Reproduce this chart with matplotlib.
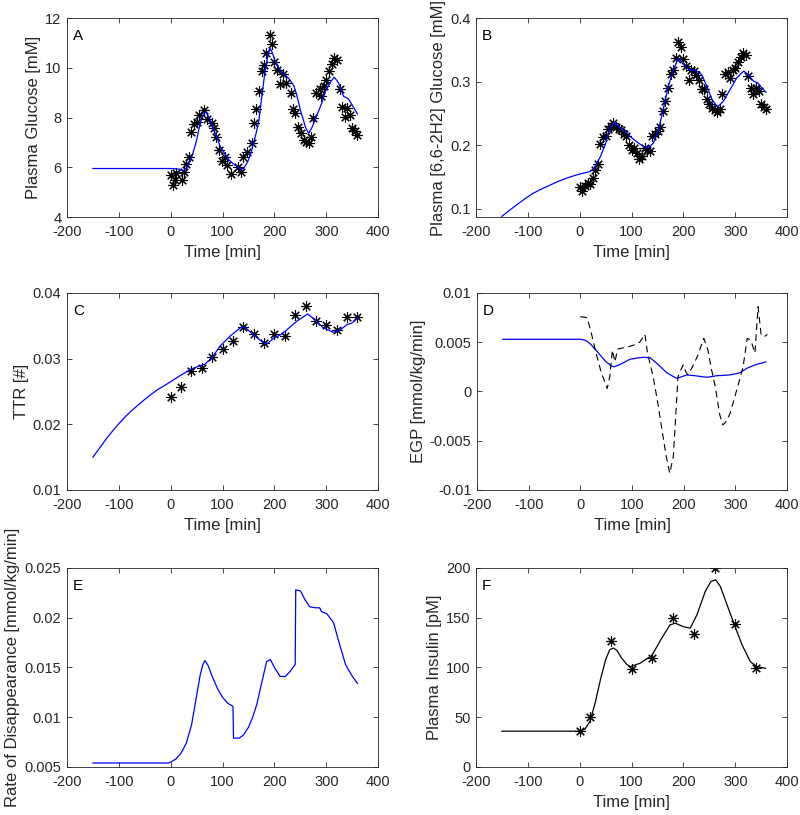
import matplotlib
matplotlib.use('Agg')
import matplotlib.pyplot as plt

plt.rcParams['font.family'] = ['Liberation Sans', 'DejaVu Sans']
plt.rcParams['axes.unicode_minus'] = False

GREY = '#262626'
STAR = (8, 2, 0)

# ---- A: plasma glucose ----
a_obs_t = [0, 4, 8, 10, 21, 25, 29, 35, 39, 45, 50, 55, 64, 70, 79, 83, 88, 94, 99, 104, 108,
           116, 129, 135, 140, 147, 156, 161, 165, 170, 175, 179, 184, 191, 195, 200, 205, 210,
           216, 222, 231, 235, 240, 245, 252, 256, 261, 266, 270, 275, 281, 287, 290, 295, 300,
           305, 310, 315, 321, 326, 330, 336, 340, 345, 350, 355, 360]
a_obs_y = [5.68, 5.30, 5.48, 5.75, 5.50, 5.80, 6.12, 6.42, 7.40, 7.74, 7.80, 8.12, 8.30, 7.96, 7.77,
           7.56, 7.23, 6.70, 6.26, 6.40, 6.08, 5.72, 6.00, 5.80, 6.42, 6.62, 6.96, 7.76, 8.34, 9.08,
           9.85, 10.10, 10.60, 11.30, 10.95, 10.25, 9.90, 9.34, 9.75, 9.40, 8.97, 8.33, 8.17, 7.60,
           7.36, 7.10, 7.00, 6.96, 7.20, 8.00, 8.97, 9.13, 8.88, 9.27, 9.50, 9.85, 10.14, 10.38,
           10.32, 9.13, 8.43, 8.03, 8.37, 8.10, 7.56, 7.45, 7.30]
a_fit_t = [-150, -100, -50, 0, 10, 18, 22, 26, 31, 36, 41, 46, 50, 54, 58, 62, 66, 70, 75, 83, 90,
           96, 104, 112, 120, 128, 135, 140, 145, 150, 155, 160, 165, 170, 176, 182, 187, 191, 195,
           200, 208, 217, 227, 237, 243, 250, 255, 260, 266, 273, 282, 291, 298, 306, 315, 320,
           324, 333, 343, 352, 360]
a_fit_y = [5.95, 5.95, 5.95, 5.95, 5.94, 5.92, 5.86, 5.88, 5.98, 6.20, 6.45, 6.80, 7.10, 7.50, 7.85,
           8.10, 8.23, 8.15, 7.95, 7.50, 7.15, 6.80, 6.55, 6.30, 6.15, 6.02, 5.92, 5.95, 6.10, 6.30,
           6.60, 7.00, 7.40, 7.90, 8.90, 9.90, 10.45, 10.80, 10.65, 10.35, 10.00, 9.78, 9.58, 9.30,
           8.90, 8.30, 7.95, 7.60, 7.36, 7.63, 8.10, 8.57, 9.04, 9.37, 9.62, 9.50, 9.37, 8.86, 8.74,
           8.43, 8.14]

# ---- B: labelled glucose ----
b_obs_t = list(range(0, 365, 5))
b_obs_y = [0.134, 0.127, 0.135, 0.140, 0.138, 0.148, 0.160, 0.170, 0.202, 0.213, 0.215, 0.225,
           0.230, 0.235, 0.228, 0.225, 0.223, 0.218, 0.215, 0.200, 0.192, 0.195, 0.188, 0.178,
           0.182, 0.195, 0.192, 0.190, 0.214, 0.218, 0.222, 0.228, 0.254, 0.270, 0.290, 0.312,
           0.318, 0.337, 0.362, 0.355, 0.335, 0.325, 0.303, 0.318, 0.316, 0.310, 0.303, 0.289,
           0.288, 0.272, 0.265, 0.258, 0.255, 0.252, 0.257, 0.280, 0.312, 0.315, 0.305, 0.318,
           0.322, 0.330, 0.338, 0.345, 0.342, 0.308, 0.290, 0.280, 0.290, 0.285, 0.265, 0.260,
           0.256]
b_fit_t = [-150, -135, -120, -105, -89, -73, -57, -41, -25, -12, 0, 19, 27, 40, 50, 56, 66, 79,
           92, 97, 110, 123, 132, 142, 152, 161, 171, 181, 190, 200, 213, 222, 235, 245, 255, 266,
           277, 290, 303, 316, 325, 335, 343, 351, 359]
b_fit_y = [0.0878, 0.0975, 0.1068, 0.1158, 0.1245, 0.131, 0.137, 0.143, 0.148, 0.1515, 0.1544,
           0.158, 0.163, 0.182, 0.203, 0.221, 0.236, 0.227, 0.219, 0.2135, 0.205, 0.1976, 0.196,
           0.203, 0.224, 0.256, 0.293, 0.319, 0.3366, 0.327, 0.3176, 0.318, 0.311, 0.293, 0.2716,
           0.260, 0.269, 0.2875, 0.306, 0.3165, 0.311, 0.3006, 0.298, 0.290, 0.2833]

# ---- C: TTR ----
c_obs_t = list(range(0, 380, 20))
c_obs_y = [0.0241, 0.0257, 0.0281, 0.0286, 0.0302, 0.0315, 0.0327, 0.0348, 0.0337, 0.0324,
           0.0337, 0.0334, 0.0366, 0.0380, 0.0357, 0.0351, 0.0344, 0.0363, 0.0363]
c_fit_t = [-150, -137, -125, -112, -100, -87, -75, -62, -50, -37, -25, -12, 0, 20, 39, 55, 65,
           80, 95, 114, 134, 143, 160, 176, 185, 198, 211, 224, 243, 264, 278, 294, 314, 327,
           340, 349, 360]
c_fit_y = [0.0150, 0.0164, 0.0177, 0.0190, 0.0201, 0.0212, 0.0221, 0.0230, 0.0238, 0.0246,
           0.0253, 0.0259, 0.0265, 0.0275, 0.0284, 0.0289, 0.0291, 0.0302, 0.0319, 0.0334,
           0.0347, 0.0348, 0.0336, 0.0326, 0.0322, 0.0331, 0.0336, 0.0344, 0.0357, 0.0368,
           0.0359, 0.0347, 0.0340, 0.0344, 0.0352, 0.0354, 0.0362]

# ---- D: EGP ----
d_fit_t = [-150, -100, -50, 0, 10, 20, 30, 40, 50, 60, 65, 75, 90, 96, 110, 122, 135, 148, 167,
           186, 193, 206, 222, 245, 264, 290, 309, 322, 338, 359]
d_fit_y = [0.0053, 0.0053, 0.0053, 0.0053, 0.0052, 0.0048, 0.0042, 0.0036, 0.0030, 0.0026,
           0.0025, 0.0027, 0.0031, 0.00327, 0.0034, 0.00347, 0.00343, 0.00286, 0.00191, 0.00134,
           0.00144, 0.00168, 0.0016, 0.00144, 0.0016, 0.00168, 0.0019, 0.00235, 0.0027, 0.0030]
d_dash_t = [0, 13, 20, 30, 40, 52, 57, 62, 67, 72, 80, 90, 103, 115, 125, 130, 141, 150, 158,
            166, 173, 180, 189, 193, 199, 204, 208, 216, 226, 239, 247, 254, 261, 270, 276, 283,
            290, 303, 315, 323, 330, 338, 344, 350, 357, 362]
d_dash_y = [0.0076, 0.0075, 0.0062, 0.0040, 0.0020, 0.0003, 0.0015, 0.0042, 0.0030, 0.0043,
            0.0044, 0.0045, 0.0047, 0.0050, 0.0058, 0.0039, 0.0015, -0.0012, -0.0039, -0.0065,
            -0.0083, -0.0066, 0.0015, 0.0020, 0.0027, 0.0020, 0.0017, 0.0024, 0.0035, 0.0054,
            0.0042, 0.0022, 0.0005, -0.0024, -0.0034, -0.0030, -0.0022, 0.0002, 0.0025, 0.0054,
            0.0052, 0.0039, 0.0086, 0.0057, 0.0056, 0.0058]

# ---- E: rate of disappearance ----
e_fit_t = [-150, -100, -50, -5, 0, 10, 20, 30, 40, 50, 57, 62, 66, 72, 80, 90, 100, 110, 120,
           121, 132, 140, 150, 158, 166, 176, 185, 192, 201, 211, 221, 230, 240, 241, 250, 259,
           268, 279, 287, 291, 301, 314, 324, 337, 349, 360]
e_fit_y = [0.0054, 0.0054, 0.0054, 0.0054, 0.0055, 0.0058, 0.0064, 0.0074, 0.0092, 0.0122,
           0.0143, 0.0153, 0.0157, 0.0152, 0.0141, 0.0129, 0.0120, 0.0114, 0.0111, 0.0079,
           0.0079, 0.0082, 0.0090, 0.0100, 0.0113, 0.0136, 0.0156, 0.0158, 0.0149, 0.0141,
           0.0141, 0.0146, 0.0153, 0.0228, 0.0227, 0.0218, 0.0211, 0.0210, 0.0210, 0.0206,
           0.0204, 0.0195, 0.0176, 0.0153, 0.0142, 0.0134]

# ---- F: plasma insulin ----
f_obs_t = [0, 20, 60, 100, 140, 180, 220, 260, 300, 340]
f_obs_y = [36.3, 50.4, 127, 98.5, 110, 149.6, 133.4, 200, 143.9, 99.2]
f_fit_t = [-150, -100, -50, 0, 10, 20, 30, 40, 50, 58, 65, 72, 80, 90, 97, 116, 139, 158, 174,
           184, 200, 213, 226, 242, 253, 262, 271, 284, 297, 313, 329, 342, 358]
f_fit_y = [36, 36, 36, 36, 38, 46, 65, 88, 108, 118, 119.5, 117, 110, 103.5, 100.8, 104.2, 112,
           129.4, 142.8, 144.5, 141, 139.5, 153, 176.4, 186.5, 188.2, 181.5, 163, 144.5, 122.7,
           105.8, 100.8, 99.2]

x_ticks = [-200, -100, 0, 100, 200, 300, 400]
x_labels = ['-200', '-100', '0', '100', '200', '300', '400']

panels = {
    'A': dict(pos=[0.08375, 0.7337, 0.389, 0.2442], ylim=(4, 12), yticks=[4, 6, 8, 10, 12],
              ylabels=['4', '6', '8', '10', '12'], ylabel='Plasma Glucose [mM]', xlabel=True),
    'B': dict(pos=[0.595, 0.7337, 0.389, 0.2442], ylim=(0.0867, 0.4), yticks=[0.1, 0.2, 0.3, 0.4],
              ylabels=['0.1', '0.2', '0.3', '0.4'], ylabel='Plasma [6,6-2H2] Glucose [mM]', xlabel=True),
    'C': dict(pos=[0.08375, 0.3988, 0.389, 0.2417], ylim=(0.01, 0.04),
              yticks=[0.01, 0.02, 0.03, 0.04], ylabels=['0.01', '0.02', '0.03', '0.04'],
              ylabel='TTR [#]', xlabel=True),
    'D': dict(pos=[0.59625, 0.3988, 0.3875, 0.2417], ylim=(-0.01, 0.01),
              yticks=[-0.01, -0.005, 0, 0.005, 0.01],
              ylabels=['-0.01', '-0.005', '0', '0.005', '0.01'],
              ylabel='EGP [mmol/kg/min]', xlabel=True),
    'E': dict(pos=[0.08375, 0.0589, 0.389, 0.2442], ylim=(0.005, 0.025),
              yticks=[0.005, 0.01, 0.015, 0.02, 0.025],
              ylabels=['0.005', '0.01', '0.015', '0.02', '0.025'],
              ylabel='Rate of Disappearance [mmol/kg/min]', xlabel=False),
    'F': dict(pos=[0.595, 0.0589, 0.389, 0.2442], ylim=(0, 200), yticks=[0, 50, 100, 150, 200],
              ylabels=['0', '50', '100', '150', '200'], ylabel='Plasma Insulin [pM]', xlabel=True),
}

fig = plt.figure(figsize=(8, 8.15), dpi=100)
axes = {}
for key, p in panels.items():
    ax = fig.add_axes(p['pos'])
    ax.set_xlim(-200, 400)
    ax.set_ylim(*p['ylim'])
    ax.set_xticks(x_ticks)
    ax.set_xticklabels(x_labels)
    ax.set_yticks(p['yticks'])
    ax.set_yticklabels(p['ylabels'])
    ax.tick_params(direction='in', top=True, right=True, length=3.5, width=0.6,
                   labelsize=10.5, colors=GREY)
    ax.tick_params(axis='x', pad=6)
    ax.tick_params(axis='y', pad=4)
    for s in ax.spines.values():
        s.set_color(GREY)
        s.set_linewidth(0.6)
    ax.set_ylabel(p['ylabel'], fontsize=12, color=GREY, labelpad=3)
    if p['xlabel']:
        ax.set_xlabel('Time [min]', fontsize=12, color=GREY, labelpad=4)
    ax.text(0.02, 0.945, key, transform=ax.transAxes, fontsize=11, va='top', ha='left',
            color='black')
    axes[key] = ax

mk = dict(linestyle='none', marker=STAR, markersize=7.5, markeredgecolor='black',
          markeredgewidth=0.8, color='black')

axes['A'].plot(a_obs_t, a_obs_y, **mk)
axes['A'].plot(a_fit_t, a_fit_y, color='blue', lw=0.9)

axes['B'].plot(b_obs_t, b_obs_y, **mk)
axes['B'].plot(b_fit_t, b_fit_y, color='blue', lw=0.9)

axes['C'].plot(c_obs_t, c_obs_y, **mk)
axes['C'].plot(c_fit_t, c_fit_y, color='blue', lw=0.9)

axes['D'].plot(d_fit_t, d_fit_y, color='blue', lw=0.9)
axes['D'].plot(d_dash_t, d_dash_y, color='black', lw=0.8, linestyle=(0, (6, 4)))

axes['E'].plot(e_fit_t, e_fit_y, color='blue', lw=0.9)

axes['F'].plot(f_obs_t, f_obs_y, **mk)
axes['F'].plot(f_fit_t, f_fit_y, color='black', lw=0.9)

fig.savefig('out.png', dpi=100)
